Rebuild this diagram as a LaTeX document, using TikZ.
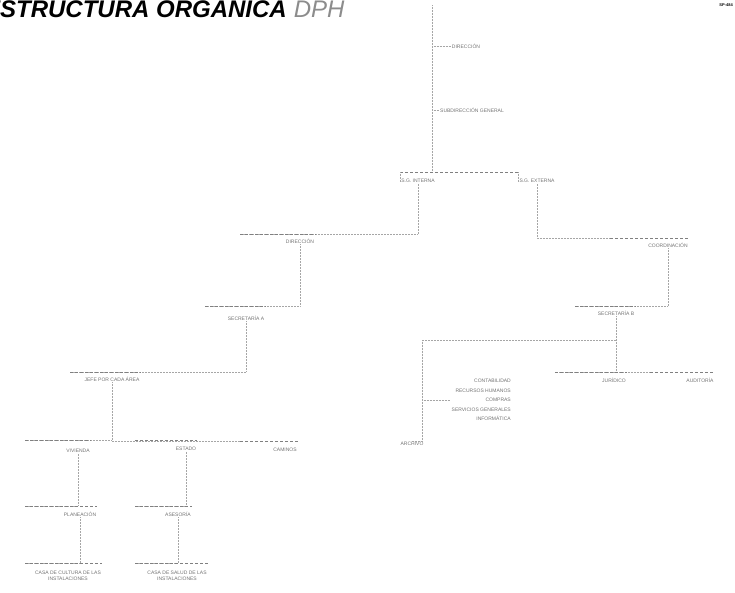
\documentclass[tikz,border=0pt]{standalone}
\usepackage{fontspec}
\setmainfont{Liberation Sans}
\begin{document}
\begin{tikzpicture}[x=1pt,y=-1pt,
  lbl/.style={font=\fontsize{5}{6}\selectfont, text=black!55, inner sep=1pt, align=center},
  conn/.style={draw=black!35, densely dotted, line width=0.5pt},
  bar/.style={draw=black!50, densely dashed, line width=0.6pt}]
\useasboundingbox (0,0) rectangle (735,592);
% title
\node[anchor=base east, inner sep=0, font=\fontsize{24}{26}\selectfont\bfseries\itshape] (title) at (287,17) {ESTRUCTURA ORGÁNICA};
\node[anchor=base west, inner sep=0, font=\fontsize{24}{26}\selectfont\itshape, text=black!45] (dph) at (title.base east) {\ DPH};
\node[anchor=north east, inner sep=0, font=\fontsize{4}{5}\selectfont\bfseries] (logo) at (733,4) {SP-484};
% nodes
\node[lbl] (dir) at (466,46) {DIRECCIÓN};
\node[lbl] (sub) at (472,110) {SUBDIRECCIÓN GENERAL};
\node[lbl] (ga) at (418,181) {S.G. INTERNA};
\node[lbl] (gb) at (537,181) {S.G. EXTERNA};
\node[lbl] (dA) at (300,241) {DIRECCIÓN};
\node[lbl] (secA) at (246,318) {SECRETARÍA A};
\node[lbl] (jefe) at (112,379) {JEFE POR CADA ÁREA};
\node[lbl] (viv) at (78,451) {VIVIENDA};
\node[lbl] (est) at (186,449) {ESTADO};
\node[lbl] (cam) at (285,450) {CAMINOS};
\node[lbl] (pla) at (80,514) {PLANEACIÓN};
\node[lbl] (ase) at (178,514) {ASESORÍA};
\node[lbl] (cc) at (68,576) {CASA DE CULTURA DE LAS\\INSTALACIONES};
\node[lbl] (cs) at (177,576) {CASA DE SALUD DE LAS\\INSTALACIONES};
\node[lbl] (coo) at (668,245) {COORDINACIÓN};
\node[lbl] (secB) at (616,313) {SECRETARÍA B};
\node[lbl, align=right, anchor=north east, font=\fontsize{5}{9.5}\selectfont] (list) at (512,378) {CONTABILIDAD\\RECURSOS HUMANOS\\COMPRAS\\SERVICIOS GENERALES\\INFORMÁTICA};
\node[lbl] (arc) at (412,444) {ARCHIVO};
\node[lbl] (jur) at (614,380) {JURÍDICO};
\node[lbl] (aud) at (700,380) {AUDITORÍA};
% junction / bar coordinates
\coordinate (s0) at (432,5);
\coordinate (s1) at (432,172);
\coordinate (jl) at (400,172);
\coordinate (jr) at (518,172);
\coordinate (dAl) at (240,234);
\coordinate (secAl) at (205,306);
\coordinate (jefel) at (70,372);
\coordinate (vivl) at (25,440);
\coordinate (estl) at (135,440);
\coordinate (caml) at (240,441);
\coordinate (plal) at (25,506);
\coordinate (asel) at (135,506);
\coordinate (ccl) at (25,563);
\coordinate (csl) at (135,563);
\coordinate (cool) at (610,238);
\coordinate (secBl) at (575,306);
\coordinate (listl) at (422,340);
\coordinate (jurl) at (555,372);
\coordinate (audl) at (650,372);
% trunk
\draw[conn] (s0) -- (s1);
\draw[conn] (s0 |- dir) -- (dir.west);
\draw[conn] (s0 |- sub) -- (sub.west);
\draw[bar] (jl) -- (jr);
\draw[conn] (jl) |- (ga.west);
\draw[conn] (jr) |- (gb.west);
% left branch
\draw[conn] (ga.south) |- (dAl);
\draw[bar] (dAl) -- (dAl -| dA.east);
\draw[conn] (dA.south) |- (secAl);
\draw[bar] (secAl) -- (secAl -| secA.east);
\draw[conn] (secA.south) |- (jefel);
\draw[bar] (jefel) -- (jefel -| jefe.east);
\draw[conn] (jefe.south) |- (vivl);
\draw[conn] (jefe.south) |- (caml);
\draw[bar] (vivl) -- (vivl -| viv.east);
\draw[bar] (estl) -- (estl -| est.east);
\draw[bar] (caml) -- (caml -| cam.east);
\draw[conn] (viv.south) |- (plal);
\draw[bar] (plal) -- (plal -| pla.east);
\draw[conn] (est.south) |- (asel);
\draw[bar] (asel) -- (asel -| ase.east);
\draw[conn] (pla.south) |- (ccl);
\draw[bar] (ccl) -- (ccl -| cc.east);
\draw[conn] (ase.south) |- (csl);
\draw[bar] (csl) -- (csl -| cs.east);
% right branch
\draw[conn] (gb.south) |- (cool);
\draw[bar] (cool) -- (cool -| coo.east);
\draw[conn] (coo.south) |- (secBl);
\draw[bar] (secBl) -- (secBl -| secB.east);
\draw[conn] (secB.south) |- (listl);
\draw[conn] (listl) |- (list.west);
\draw[conn] (listl) |- (arc.north);
\draw[conn] (secB.south) |- (jurl);
\draw[conn] (secB.south) |- (audl);
\draw[bar] (jurl) -- (jurl -| jur.east);
\draw[bar] (audl) -- (audl -| aud.east);
\end{tikzpicture}
\end{document}
